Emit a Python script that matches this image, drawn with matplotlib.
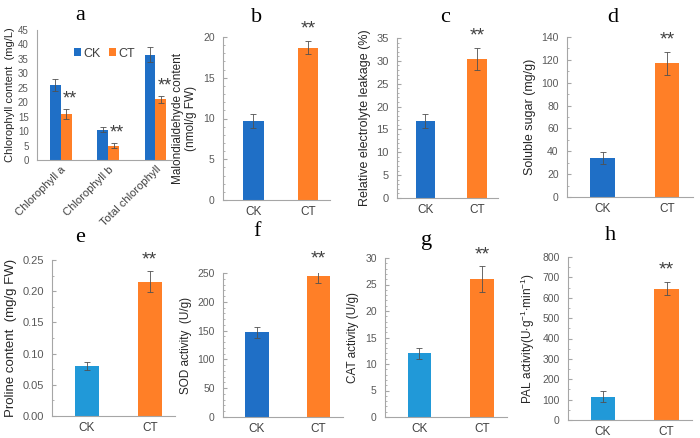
import numpy as np
import matplotlib
matplotlib.use("Agg")
from matplotlib import pyplot as plt
from matplotlib.ticker import MultipleLocator

plt.rcParams["font.family"] = ["Liberation Sans", "DejaVu Sans"]
plt.rcParams["mathtext.fontset"] = "custom"
plt.rcParams["mathtext.rm"] = "Liberation Sans"

# panel a data
chlCats = ["Chlorophyll a", "Chlorophyll b", "Total chlorophyll"]
chlCK = [26.0, 10.5, 36.5]
chlCKerr = [2.2, 0.8, 2.5]
chlCT = [16.0, 5.0, 21.0]
chlCTerr = [1.8, 1.0, 1.3]

# panels b-h: CK, CT means and errors
groups = ["CK", "CT"]
mdaVals = [9.7, 18.7]
mdaErr = [0.9, 0.8]
relVals = [16.8, 30.4]
relErr = [1.5, 2.5]
sugarVals = [34.0, 117.0]
sugarErr = [5.0, 10.0]
prolineVals = [0.080, 0.215]
prolineErr = [0.006, 0.017]
sodVals = [147.0, 244.0]
sodErr = [10.0, 11.0]
catVals = [12.0, 26.0]
catErr = [1.1, 2.4]
palVals = [115.0, 645.0]
palErr = [25.0, 32.0]

blue = "#1F6FC6"
lightBlue = "#2199D8"
orange = "#FF7F27"
axisGray = "#A6A6A6"
textGray = "#595959"

fig = plt.figure(figsize=(7, 4.38), dpi=100)


def styleAx(ax, ymax, major, minor, tickSize=7.5):
    for s in ["top", "right"]:
        ax.spines[s].set_visible(False)
    ax.spines["left"].set_color(axisGray)
    ax.spines["bottom"].set_color(axisGray)
    ax.set_ylim(0, ymax)
    ax.yaxis.set_major_locator(MultipleLocator(major))
    if minor:
        ax.yaxis.set_minor_locator(MultipleLocator(minor))
    ax.tick_params(axis="y", which="major", direction="in", length=3, color=axisGray, labelsize=tickSize, labelcolor=textGray, pad=6)
    ax.tick_params(axis="y", which="minor", direction="in", length=1.5, color=axisGray)
    ax.tick_params(axis="x", length=0, labelsize=8.5, labelcolor="#404040", pad=4)


def panel(rect, letter, vals, errs, ymax, major, minor, ylabel, fmt, ckColor, letterXY, labelSize=8.5, tickSize=7.5):
    ax = fig.add_axes(rect)
    x = np.arange(len(groups))
    ax.bar(x, vals, width=0.38, color=[ckColor, orange])
    ax.errorbar(x, vals, yerr=errs, fmt="none", ecolor="#505050", elinewidth=0.6, capsize=2, capthick=0.6)
    ax.text(x[1], vals[1] + errs[1] + ymax * 0.02, "**", ha="center", va="bottom", fontsize=14, color="#404040")
    ax.set_xticks(x)
    ax.set_xticklabels(groups)
    ax.set_xlim(-0.55, 1.4)
    styleAx(ax, ymax, major, minor, tickSize)
    ax.yaxis.set_major_formatter(fmt)
    ax.set_ylabel(ylabel, fontsize=labelSize, color="#262626")
    fig.text(letterXY[0] / 700, 1 - letterXY[1] / 438, letter, ha="center", va="center", fontsize=16, family="Liberation Serif")
    return ax


# panel a
axA = fig.add_axes([37 / 700, 1 - 160 / 438, 135 / 700, 130 / 438])
xa = np.arange(len(chlCats))
w = 0.23
axA.bar(xa - w / 2, chlCK, width=w, color=blue, label="CK")
axA.bar(xa + w / 2, chlCT, width=w, color=orange, label="CT")
axA.errorbar(xa - w / 2, chlCK, yerr=chlCKerr, fmt="none", ecolor="#505050", elinewidth=0.6, capsize=2, capthick=0.6)
axA.errorbar(xa + w / 2, chlCT, yerr=chlCTerr, fmt="none", ecolor="#505050", elinewidth=0.6, capsize=2, capthick=0.6)
for i in range(len(chlCats)):
    axA.text(xa[i] + w / 2 + 0.08, chlCT[i] + chlCTerr[i] + 0.3, "**", ha="center", va="bottom", fontsize=13, color="#404040")
axA.set_xticks(xa)
axA.set_xticklabels(chlCats, rotation=45, ha="right", rotation_mode="anchor")
axA.set_xlim(-0.5, 2.35)
styleAx(axA, 45, 5, None, 7)
axA.tick_params(axis="y", which="major", length=0)
axA.tick_params(axis="x", labelsize=8, pad=3)
axA.set_ylabel("Chlorophyll content  (mg/L)", fontsize=8, color="#262626", labelpad=2)
axA.legend(loc="upper center", bbox_to_anchor=(0.5, 0.95), ncol=2, frameon=False, fontsize=9,
           handlelength=0.6, handleheight=0.6, handletextpad=0.2, columnspacing=0.6, labelcolor="#404040")
fig.text(80 / 700, 1 - 15 / 438, "a", ha="center", va="center", fontsize=16, family="Liberation Serif")

intFmt = "{x:.0f}"
panel([223 / 700, 1 - 200 / 438, 107 / 700, 163 / 438], "b", mdaVals, mdaErr, 20, 5, 1,
      "Malondialdehyde content\n(nmol/g FW)", intFmt, blue, (257, 17))
panel([397 / 700, 1 - 198 / 438, 101 / 700, 160 / 438], "c", relVals, relErr, 35, 5, 1,
      "Relative electrolyte leakage (%)", intFmt, blue, (445, 17), labelSize=9, tickSize=8)
panel([567 / 700, 1 - 197 / 438, 126 / 700, 160 / 438], "d", sugarVals, sugarErr, 140, 20, 10,
      "Soluble sugar (mg/g)", intFmt, blue, (613, 17), labelSize=9)
panel([52 / 700, 1 - 416 / 438, 123 / 700, 156 / 438], "e", prolineVals, prolineErr, 0.25, 0.05, 0.025,
      "Proline content  (mg/g FW)", "{x:.2f}", lightBlue, (80, 238), labelSize=9.5, tickSize=8)
panel([223 / 700, 1 - 417 / 438, 120 / 700, 144 / 438], "f", sodVals, sodErr, 250, 50, 10,
      "SOD activity  (U/g)", intFmt, blue, (257, 232))
panel([385 / 700, 1 - 417 / 438, 122 / 700, 159 / 438], "g", catVals, catErr, 30, 5, 1,
      "CAT activity (U/g)", intFmt, lightBlue, (427, 240))
panel([568 / 700, 1 - 420 / 438, 124 / 700, 163 / 438], "h", palVals, palErr, 800, 100, 50,
      r"PAL activity(U$\bullet$g$^{-1}$$\bullet$min$^{-1}$)", intFmt, lightBlue, (610, 236))

fig.savefig("out.png", dpi=100)
